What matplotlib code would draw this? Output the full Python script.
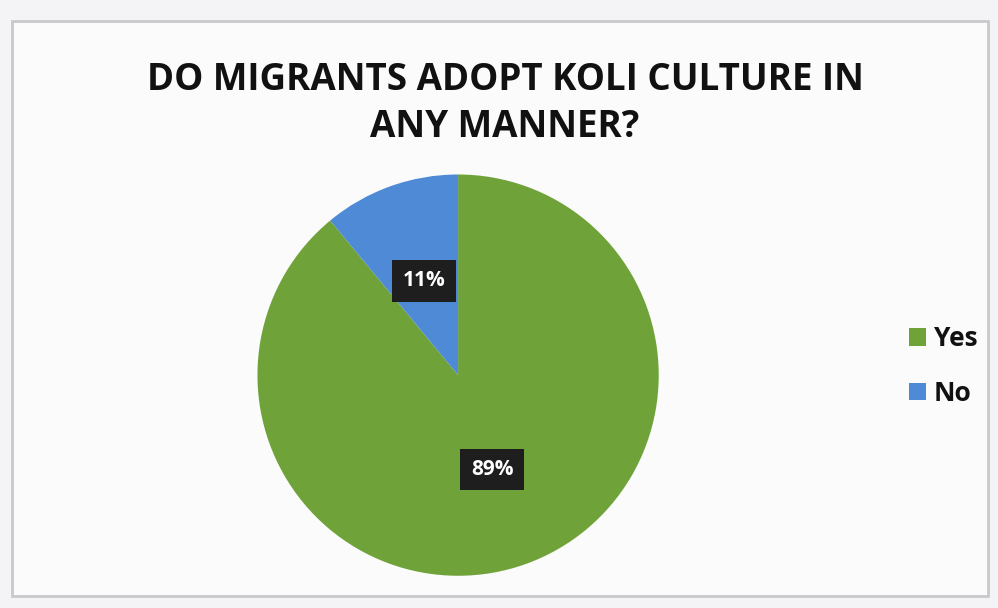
import matplotlib
matplotlib.use("Agg")
import matplotlib.pyplot as plt
from matplotlib.patches import Rectangle

labels = ["Yes", "No"]
values = [89, 11]
colors = ["#6fa33a", "#4f8ad6"]
title = "DO MIGRANTS ADOPT KOLI CULTURE IN\nANY MANNER?"

plt.rcParams['font.family'] = ['Open Sans', 'DejaVu Sans']

fig = plt.figure(figsize=(9.98, 6.08), dpi=100)
fig.patch.set_facecolor("#f4f4f6")
# frame of the chart area
fig.patches.append(Rectangle((0.012, 0.02), 0.978, 0.945, transform=fig.transFigure,
                             facecolor="#fbfbfc", edgecolor="#c9c9cc", lw=2, zorder=-10))

ax = fig.add_axes([0.257, 0.053, 0.404, 0.66])
ax.set_zorder(5)
ax.patch.set_visible(False)
wedges, texts, autotexts = ax.pie(
    values, colors=colors, startangle=90, counterclock=False,
    autopct=lambda p: f"{p:.0f}%", pctdistance=0.5,
    wedgeprops=dict(linewidth=0),
    textprops=dict(color="white", fontsize=15, fontweight="bold"))
for t in autotexts:
    t.set_bbox(dict(facecolor="#1e1e1e", edgecolor="none", boxstyle="square,pad=0.5"))
ax.set_aspect("equal")
ax.set_xlim(-1, 1)
ax.set_ylim(-1, 1)
ax.axis("off")

fig.text(0.506, 0.83, title, ha="center", va="center", fontsize=26.5,
         fontweight="bold", color="#111111", linespacing=1.3)

leg = fig.legend(wedges, labels, loc="center left", bbox_to_anchor=(0.887, 0.398),
                 frameon=False, prop=dict(size=19, weight="bold"),
                 handlelength=0.65, handleheight=0.65, handletextpad=0.3,
                 labelspacing=1.05)
for t in leg.get_texts():
    t.set_color("#111111")

fig.savefig("out.png", dpi=100, facecolor=fig.get_facecolor())
